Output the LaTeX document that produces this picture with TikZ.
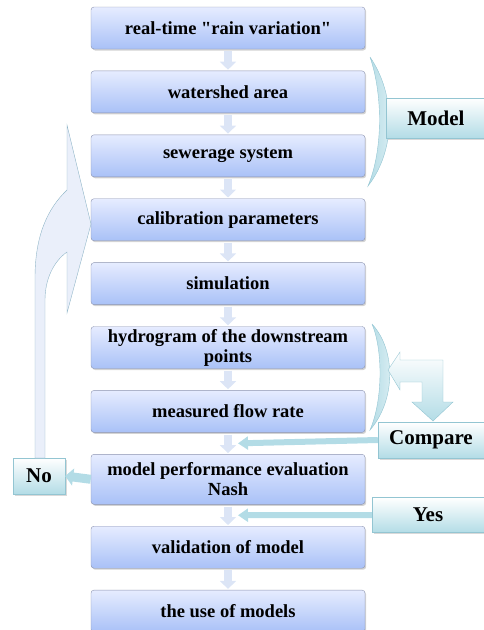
\documentclass[tikz,border=0pt]{standalone}
\usepackage{fontspec}
\setmainfont{Liberation Serif}
\usepackage{tikz}
\usetikzlibrary{arrows.meta, positioning, shadows, calc}
\definecolor{boxtop}{HTML}{E6ECFF}
\definecolor{boxbot}{HTML}{A9C1F7}
\definecolor{boxline}{HTML}{8C94B0}
\definecolor{sidetop}{HTML}{FFFFFF}
\definecolor{sidebot}{HTML}{B3DCE6}
\definecolor{sideline}{HTML}{93C5D2}
\definecolor{flowfill}{HTML}{DCE5F6}
\tikzset{
  stepbox/.style={draw=boxline, rounded corners=3pt, top color=boxtop, bottom color=boxbot,
    minimum width=274pt, minimum height=42pt, align=center, inner sep=2pt,
    font=\fontsize{18.5}{20}\selectfont\bfseries,
    drop shadow={opacity=0.35, shadow xshift=1.2pt, shadow yshift=-1.5pt}},
  sidebox/.style={draw=sideline, top color=sidetop, bottom color=sidebot,
    font=\fontsize{21}{24}\selectfont\bfseries,
    drop shadow={opacity=0.3, shadow xshift=1.5pt, shadow yshift=-1.5pt}},
  flowarr/.style={draw=flowfill, line width=8pt, shorten <=2pt, shorten >=1pt,
    -{Triangle[width=16pt,length=8pt]}},
  sidearr/.style={draw=sidebot, line width=6pt,
    -{Triangle[width=13pt,length=10pt]}},
  bracket/.style={draw=sideline, left color=sidebot, right color=sidetop!60!sidebot}
}
\begin{document}
\begin{tikzpicture}[x=1pt, y=-1pt, node distance=21.5pt]
\useasboundingbox (0,0) rectangle (483,630);

\node (rain) [stepbox] at (228,28) {real-time \textquotedbl rain variation\textquotedbl};
\node (shed) [stepbox, below=of rain] {watershed area};
\node (sewer) [stepbox, below=of shed] {sewerage system};
\node (calib) [stepbox, below=of sewer] {calibration parameters};
\node (simul) [stepbox, below=of calib] {simulation};
\node (hydro) [stepbox, below=of simul] {hydrogram of the downstream\\ points};
\node (flow) [stepbox, below=of hydro] {measured flow rate};
\node (nash) [stepbox, below=of flow, minimum height=50pt] {model performance evaluation\\ Nash};
\node (valid) [stepbox, below=of nash] {validation of model};
\node (use) [stepbox, below=of valid] {the use of models};

\foreach \a/\b in {rain/shed, shed/sewer, sewer/calib, calib/simul, simul/hydro,
  hydro/flow, flow/nash, nash/valid, valid/use}
  \draw[flowarr] (\a.south) -- (\b.north);

% brackets
\path[bracket] (370,57) .. controls (396,95) and (396,150) .. (368,186)
  .. controls (383,150) and (383,95) .. (370,57);
\path[bracket] (372,324) .. controls (396,350) and (396,400) .. (370,430)
  .. controls (383,400) and (383,350) .. (372,324);

\node (model) [sidebox, minimum width=100pt, minimum height=40pt] at (436,118) {Model};
\node (comp) [sidebox, minimum width=106pt, minimum height=36pt] at (431,440) {Compare};
\node (yes) [sidebox, minimum width=112pt, minimum height=35pt] at (428,515) {Yes};
\node (no) [sidebox, minimum width=52pt, minimum height=36pt] at (39,476) {No};

% compare turn arrow
\path[draw=sideline, top color=sidetop, bottom color=sidebot]
  (388,370) -- (400,352) -- (400,360) -- (443,360) -- (443,402) -- (453,402)
  -- (433,421) -- (412,402) -- (422,402) -- (422,382) -- (400,382) -- (400,390) -- cycle;

\coordinate (cin) at ($(flow.south)!0.5!(nash.north)+(10,0)$);
\coordinate (yin) at ($(nash.south)!0.5!(valid.north)+(10,0)$);
\draw[sidearr] (comp.west) -- (cin);
\draw[sidearr] (yes.west) -- (yin);
\draw[sidearr, line width=9pt, -{Triangle[width=17pt,length=8pt]}] (nash.west) -- (no.east);

% loop back arrow
\path[draw=sideline!70!boxline, fill=flowfill!60]
  (35,458) -- (35,278) .. controls (35,235) and (48,208) .. (67,190) -- (67,125)
  -- (91,224) -- (67,313) -- (67,252) .. controls (53,262) and (45,280) .. (45,300)
  -- (45,458) -- cycle;
\end{tikzpicture}
\end{document}
